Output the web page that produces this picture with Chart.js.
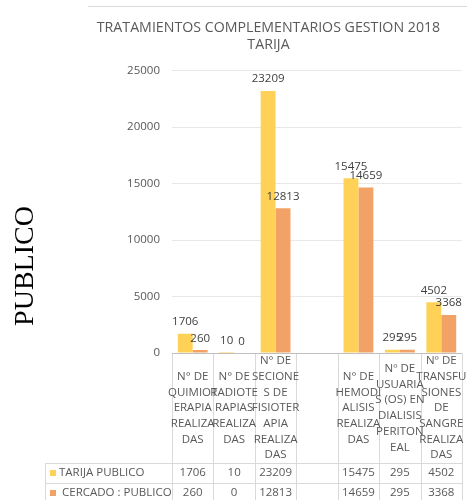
<!DOCTYPE html>
<html>
<head>
<meta charset="utf-8">
<script src="https://cdn.jsdelivr.net/npm/chart.js@4.4.0/dist/chart.umd.min.js"></script>
<style>
  body { margin: 0; background: #fff; }
  #caja { position: relative; width: 467px; height: 500px; }
</style>
</head>
<body>
<div id="caja"><canvas id="grafico"></canvas></div>
<script>
// categorias (ya partidas en renglones como en la tabla de datos)
const categorias = [
  ['N° DE', 'QUIMIOT', 'ERAPIA', 'REALIZA', 'DAS'],
  ['N° DE', 'RADIOTE', 'RAPIAS', 'REALIZA', 'DAS'],
  ['N° DE', 'SECIONE', 'S DE', 'FISIOTER', 'APIA', 'REALIZA', 'DAS'],
  [],
  ['N° DE', 'HEMODI', 'ALISIS', 'REALIZA', 'DAS'],
  ['Nº DE', 'USUARIA', 'S (OS) EN', 'DIALISIS', 'PERITON', 'EAL'],
  ['Nº DE', 'TRANSFU', 'SIONES', 'DE', 'SANGRE', 'REALIZA', 'DAS']
];
const tarijaPublico = [1706, 10, 23209, null, 15475, 295, 4502];
const cercadoPublico = [260, 0, 12813, null, 14659, 295, 3368];
const nombresSeries = ['TARIJA PUBLICO', 'CERCADO : PUBLICO'];
const coloresSeries = ['#FFD257', '#F2A266'];
const titulo = ['TRATAMIENTOS COMPLEMENTARIOS GESTION 2018', 'TARIJA'];
const rotuloLateral = 'PUBLICO';

const fuente = '"Open Sans", "DejaVu Sans", sans-serif';
const gris = '#595959';

// dibuja etiquetas de valor, la tabla de datos y el rotulo lateral
const tablaDatos = {
  id: 'tablaDatos',
  afterDraw(chart) {
    const ctx = chart.ctx;
    const area = chart.chartArea;
    const xs = chart.scales.x;
    const n = categorias.length;
    const anchoCol = (area.right - area.left) / n;
    const izqLeyenda = 45;
    const altoCab = 110;
    const altoFila = 20;
    const series = [tarijaPublico, cercadoPublico];

    ctx.save();

    // etiquetas sobre las barras
    ctx.font = '11.5px ' + fuente;
    ctx.fillStyle = '#404040';
    ctx.textAlign = 'center';
    ctx.textBaseline = 'bottom';
    series.forEach((vals, i) => {
      chart.getDatasetMeta(i).data.forEach((bar, j) => {
        if (vals[j] === null) return;
        ctx.fillText(String(vals[j]), bar.x, bar.y - 6);
      });
    });

    // lineas de la tabla
    const top = area.bottom;
    const finCab = top + altoCab;
    const fin = chart.height;
    ctx.lineWidth = 1;
    ctx.strokeStyle = '#d9d9d9';
    ctx.beginPath();
    for (let i = 0; i <= n; i++) {
      const px = Math.round(xs.getPixelForValue(i) - anchoCol / 2) + 0.5;
      ctx.moveTo(px, top);
      ctx.lineTo(px, fin);
    }
    ctx.moveTo(izqLeyenda + 0.5, finCab);
    ctx.lineTo(izqLeyenda + 0.5, fin);
    ctx.moveTo(izqLeyenda, Math.round(finCab) + 0.5);
    ctx.lineTo(area.right, Math.round(finCab) + 0.5);
    ctx.moveTo(izqLeyenda, Math.round(finCab + altoFila) + 0.5);
    ctx.lineTo(area.right, Math.round(finCab + altoFila) + 0.5);
    ctx.stroke();

    ctx.strokeStyle = '#bfbfbf';
    ctx.beginPath();
    ctx.moveTo(area.left, Math.round(top) + 0.5);
    ctx.lineTo(area.right, Math.round(top) + 0.5);
    ctx.stroke();

    // encabezados de categoria
    ctx.font = '11.5px ' + fuente;
    ctx.fillStyle = gris;
    ctx.textBaseline = 'middle';
    const interlinea = 15.7;
    categorias.forEach((lineas, j) => {
      const cx = xs.getPixelForValue(j);
      const y0 = top + altoCab / 2 - (lineas.length - 1) * interlinea / 2;
      lineas.forEach((t, k) => ctx.fillText(t, cx, y0 + k * interlinea));
    });

    // filas de valores con clave de color
    series.forEach((vals, i) => {
      const cy = finCab + altoFila * i + altoFila / 2;
      ctx.fillStyle = coloresSeries[i];
      ctx.fillRect(50, cy - 3, 6, 6);
      ctx.fillStyle = gris;
      ctx.textAlign = 'left';
      ctx.fillText(nombresSeries[i], 59 + i * 3, cy);
      ctx.textAlign = 'center';
      vals.forEach((v, j) => {
        if (v === null) return;
        ctx.fillText(String(v), xs.getPixelForValue(j), cy);
      });
    });

    // borde superior del area del grafico
    ctx.strokeStyle = '#d9d9d9';
    ctx.beginPath();
    ctx.moveTo(88, 6.5);
    ctx.lineTo(chart.width, 6.5);
    ctx.stroke();

    // rotulo vertical
    ctx.translate(33, 266);
    ctx.rotate(-Math.PI / 2);
    ctx.font = '28px "Liberation Serif", "DejaVu Serif", serif';
    ctx.fillStyle = '#000';
    ctx.textAlign = 'center';
    ctx.textBaseline = 'alphabetic';
    ctx.fillText(rotuloLateral, 0, 0);

    ctx.restore();
  }
};

new Chart(document.getElementById('grafico'), {
  type: 'bar',
  data: {
    labels: categorias,
    datasets: [
      { label: nombresSeries[0], data: tarijaPublico, backgroundColor: coloresSeries[0] },
      { label: nombresSeries[1], data: cercadoPublico, backgroundColor: coloresSeries[1] }
    ]
  },
  options: {
    responsive: true,
    maintainAspectRatio: false,
    animation: false,
    layout: { padding: { left: 75, right: 5, top: 0, bottom: 147 } },
    datasets: { bar: { barPercentage: 1, categoryPercentage: 0.72 } },
    plugins: {
      legend: { display: false },
      tooltip: { enabled: false },
      title: {
        display: true,
        text: titulo,
        color: gris,
        font: { family: fuente, size: 14.2, weight: 'normal', lineHeight: 1.15 },
        padding: { top: 20, bottom: 18 }
      }
    },
    scales: {
      x: {
        grid: { display: false },
        border: { display: false },
        ticks: { display: false },
        afterFit(scale) { scale.height = 0; }
      },
      y: {
        min: 0,
        max: 25000,
        ticks: {
          stepSize: 5000,
          padding: 12,
          color: gris,
          font: { family: fuente, size: 11.5 },
          callback: (v) => String(v)
        },
        grid: { color: '#e8e8e8', drawTicks: false },
        border: { display: false },
        afterFit(scale) { scale.width = 97; }
      }
    }
  },
  plugins: [tablaDatos]
});
</script>
</body>
</html>
